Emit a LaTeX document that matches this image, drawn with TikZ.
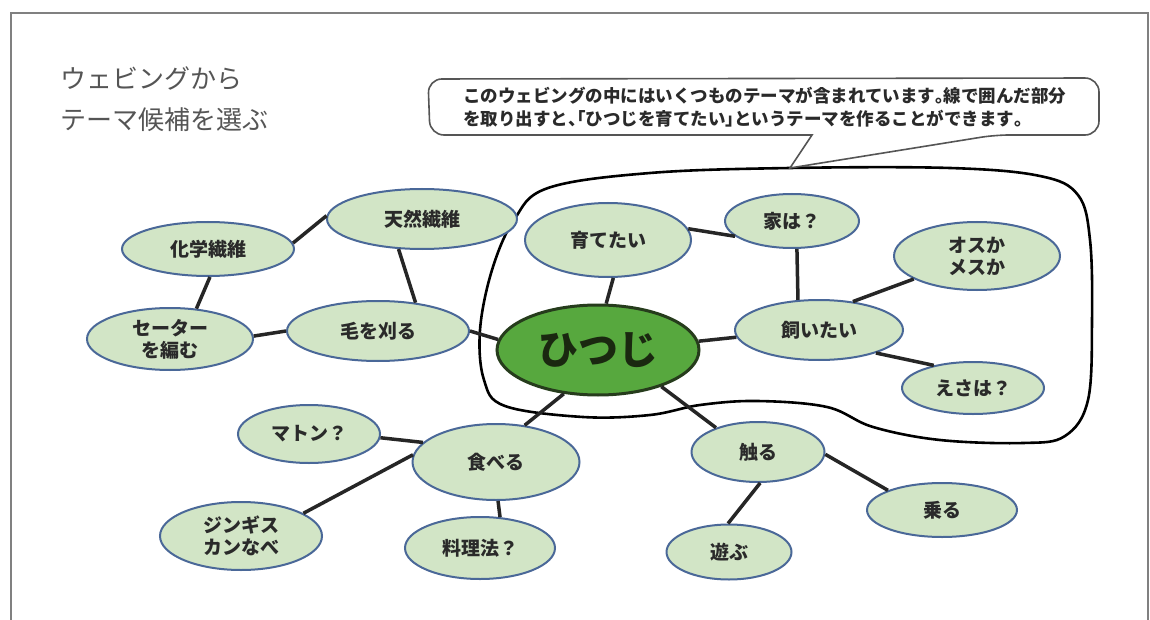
\documentclass[tikz,border=0pt]{standalone}
\usepackage{fontspec}
\setmainfont{Noto Sans CJK JP}
\newfontfamily\halfpunct[RawFeature=+halt]{Noto Sans CJK JP}
\newcommand{\hp}[1]{{\halfpunct\bfseries #1}}
\usetikzlibrary{shapes.geometric}
\definecolor{nodefill}{HTML}{D2E5C6}
\definecolor{nodeline}{HTML}{4A6898}
\definecolor{nodetext}{HTML}{2A2A2A}
\definecolor{sheepfill}{HTML}{57A83E}
\definecolor{sheepline}{HTML}{263C1C}
\definecolor{sheeptext}{HTML}{1A2810}
\definecolor{linkcol}{HTML}{262626}
\definecolor{framecol}{HTML}{808080}
\definecolor{titlecol}{HTML}{555555}
\definecolor{callcol}{HTML}{555555}
\begin{document}
\begin{tikzpicture}[x=1pt,y=-1pt,
  bub/.style={ellipse, draw=nodeline, fill=nodefill, line width=2pt, inner sep=0pt,
    font=\fontsize{19}{22}\selectfont\bfseries, text=nodetext, align=center},
  sheep/.style={ellipse, draw=sheepline, fill=sheepfill, line width=3pt, inner sep=0pt,
    font=\fontsize{40}{44}\selectfont\bfseries, text=sheeptext},
  link/.style={draw=linkcol, line width=3.5pt},
  encl/.style={draw=black, line width=2.6pt},
  callout/.style={draw=callcol, line width=1.6pt, fill=white},
  framestyle/.style={draw=framecol, line width=2.5pt}
]
\useasboundingbox (0,0) rectangle (1150,620);
\fill[white] (0,0) rectangle (1150,620);
% frame
\draw[framestyle] (11,620) -- (11,13) -- (1148,13) -- (1148,620);

% title
\node[anchor=west, text=titlecol, font=\fontsize{26}{30}\selectfont, inner sep=0pt] (title1) at (60,78) {ウェビングから};
\node[anchor=west, text=titlecol, font=\fontsize{26}{30}\selectfont, inner sep=0pt] (title2) at (60,120) {テーマ候補を選ぶ};

% enclosure
\draw[encl] plot[smooth cycle, tension=0.6] coordinates {
  (480,330) (492,270) (514,220) (548,188) (650,173) (790,168) (950,168)
  (1040,176) (1078,195) (1090,240) (1092,320) (1088,400) (1065,436)
  (1023,443) (940,440) (873,427) (827,407) (757,401) (700,405) (650,415)
  (583,417) (505,406) (484,380)};

% callout
\draw[callout] (812,135) [rounded corners=14pt] -- (430,135) -- (428,79) -- (1099,78) -- (1099,135) -- (995,135) [sharp corners] -- (790,168) -- cycle;
\node[anchor=north west, align=left, inner sep=0pt, text=nodetext,
  font=\fontsize{17.5}{23}\selectfont\bfseries] (ctext) at (463,87)
  {このウェビングの中にはいくつものテーマが含まれています\hp{。}線で囲んだ部分\\を取り出すと\hp{、「}ひつじを育てたい\hp{」}というテーマを作ることができます\hp{。}};

% nodes
\node[bub, minimum width=190pt, minimum height=60pt] (tennen) at (422,219) {天然繊維};
\node[bub, minimum width=172pt, minimum height=54pt] (kagaku) at (208,249) {化学繊維};
\node[bub, minimum width=166pt, minimum height=62pt] (sweater) at (170,339) {セーター\\を編む};
\node[bub, minimum width=182pt, minimum height=60pt] (kewo) at (378,331) {毛を刈る};
\node[sheep, minimum width=202pt, minimum height=90pt] (hitsuji) at (598,350) {ひつじ};
\node[bub, minimum width=166pt, minimum height=74pt] (sodate) at (608,240) {育てたい};
\node[bub, minimum width=134pt, minimum height=54pt] (ie) at (792,221) {家は？};
\node[bub, minimum width=166pt, minimum height=68pt] (osu) at (977,256) {オスか\\メスか};
\node[bub, minimum width=168pt, minimum height=60pt] (kai) at (819,330) {飼いたい};
\node[bub, minimum width=142pt, minimum height=52pt] (esa) at (973,388) {えさは？};
\node[bub, minimum width=142pt, minimum height=58pt] (maton) at (309,434) {マトン？};
\node[bub, minimum width=167pt, minimum height=76pt] (taberu) at (496,462) {食べる};
\node[bub, minimum width=162pt, minimum height=68pt] (jingis) at (241,536) {ジンギス\\カンなべ};
\node[bub, minimum width=150pt, minimum height=62pt] (ryori) at (480,548) {料理法？};
\node[bub, minimum width=133pt, minimum height=60pt] (sawaru) at (758,452) {触る};
\node[bub, minimum width=150pt, minimum height=54pt] (noru) at (942,510) {乗る};
\node[bub, minimum width=125pt, minimum height=55pt] (asobu) at (729,552) {遊ぶ};

% links
\draw[link] (kagaku.4) -- (tennen.178);
\draw[link] (kagaku.-86) -- (sweater.49);
\draw[link] (sweater.2) -- (kewo.180);
\draw[link] (tennen.-128) -- (kewo.37);
\draw[link] (kewo.0) -- (hitsuji.174);
\draw[link] (sodate.-82) -- (hitsuji.80);
\draw[link] (sodate.8) -- (ie.195);
\draw[link] (ie.-80) -- (kai.125);
\draw[link] (hitsuji.5) -- (kai.185);
\draw[link] (kai.40) -- (osu.-160);
\draw[link] (kai.-22) -- (esa.150);
\draw[link] (hitsuji.-128) -- (taberu.52);
\draw[link] (taberu.165) -- (maton.-3);
\draw[link] (taberu.175) -- (jingis.20);
\draw[link] (taberu.-87) -- (ryori.57);
\draw[link] (hitsuji.-30) -- (sawaru.150);
\draw[link] (sawaru.-2) -- (noru.160);
\draw[link] (sawaru.-86) -- (asobu.92);
\end{tikzpicture}
\end{document}
